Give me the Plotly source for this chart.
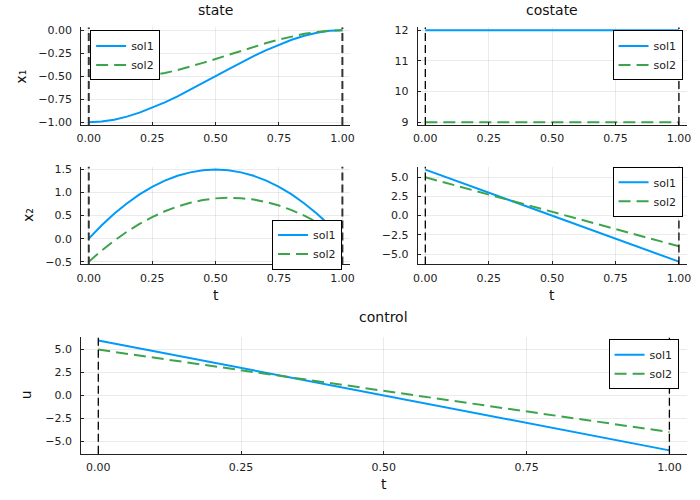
import plotly.graph_objects as go

# time grid and solution samples
t = [0.0, 0.05, 0.1, 0.15, 0.2, 0.25, 0.3, 0.35, 0.4, 0.45, 0.5,
     0.55, 0.6, 0.65, 0.7, 0.75, 0.8, 0.85, 0.9, 0.95, 1.0]
t_ends = [0.0, 1.0]

x1_sol1 = [-1.0, -0.993, -0.972, -0.939, -0.896, -0.844, -0.784, -0.718, -0.648, -0.575, -0.5,
           -0.425, -0.352, -0.282, -0.216, -0.156, -0.104, -0.061, -0.028, -0.007, 0.0]
x1_sol2 = [-0.5, -0.519, -0.527, -0.524, -0.512, -0.492, -0.466, -0.433, -0.396, -0.355, -0.313,
           -0.268, -0.224, -0.181, -0.140, -0.102, -0.068, -0.040, -0.019, -0.005, 0.0]
x2_sol1 = [0.0, 0.285, 0.54, 0.765, 0.96, 1.125, 1.26, 1.365, 1.44, 1.485, 1.5,
           1.485, 1.44, 1.365, 1.26, 1.125, 0.96, 0.765, 0.54, 0.285, 0.0]
x2_sol2 = [-0.5, -0.261, -0.045, 0.149, 0.32, 0.469, 0.595, 0.699, 0.78, 0.839, 0.875,
           0.889, 0.88, 0.849, 0.795, 0.719, 0.62, 0.499, 0.355, 0.189, 0.0]

p1_sol1 = [12.0, 12.0]
p1_sol2 = [9.0, 9.0]
p2_sol1 = [6.0, -6.0]
p2_sol2 = [5.0, -4.0]
u_sol1 = [6.0, -6.0]
u_sol2 = [5.0, -4.0]

x_ticks = [0.0, 0.25, 0.5, 0.75, 1.0]

BLUE = "#009AFA"
GREEN = "#3DA44D"
FONT = "DejaVu Sans"
W, H = 700, 500
S = 0.99  # the page comes out a touch smaller than laid out, stretch a little


def px_x(p):
    return (W / 2 + (p - W / 2) / S) / W


def px_y(p):
    return 1 - (H / 2 + (p - H / 2) / S) / H


def padded(vals, f=0.03):
    lo, hi = min(vals), max(vals)
    s = hi - lo
    return [lo - f * s, hi + f * s]


fig = go.Figure()

# (xaxis, yaxis, legend, left, right, top, bottom, sol1 x/y, sol2 x/y, vline style)
panels = [
    ("x", "y", "legend", 80, 350, 27, 125, (t, x1_sol1), (t, x1_sol2), "thick"),
    ("x2", "y2", "legend2", 418, 688, 27, 125, (t_ends, p1_sol1), (t_ends, p1_sol2), "thin"),
    ("x3", "y3", "legend3", 80, 350, 167, 265, (t, x2_sol1), (t, x2_sol2), "thick"),
    ("x4", "y4", "legend4", 418, 688, 167, 265, (t_ends, p2_sol1), (t_ends, p2_sol2), "thin"),
    ("x5", "y5", "legend5", 80, 688, 338, 455, (t_ends, u_sol1), (t_ends, u_sol2), "thin"),
]

y_fmt = {"y": (0.25, ".2f"), "y2": (1, "d"), "y3": (0.5, ".1f"), "y4": (2.5, ".1f"), "y5": (2.5, ".1f")}

legend_pos = {
    "legend": (89, 30, "left"),
    "legend2": (684, 30, "right"),
    "legend3": (342, 220, "right"),
    "legend4": (684, 167, "right"),
    "legend5": (680, 340, "right"),
}

layout = {}
for xa, ya, lg, l, r, top, bot, s1, s2, vstyle in panels:
    fig.add_trace(go.Scatter(x=s1[0], y=s1[1], mode="lines", name="sol1",
                             line=dict(color=BLUE, width=2), xaxis=xa, yaxis=ya, legend=lg))
    fig.add_trace(go.Scatter(x=s2[0], y=s2[1], mode="lines", name="sol2",
                             line=dict(color=GREEN, width=2, dash="12px,6px"),
                             xaxis=xa, yaxis=ya, legend=lg))
    yr = padded(list(s1[1]) + list(s2[1]))
    xk = "xaxis" + xa[1:]
    yk = "yaxis" + ya[1:]
    common = dict(showline=True, linecolor="#222", linewidth=1, mirror=False,
                  showgrid=True, gridcolor="rgba(0,0,0,0.08)", zeroline=False,
                  ticks="inside", ticklen=3, tickcolor="#222",
                  tickfont=dict(family=FONT, size=11, color="#222"))
    layout[xk] = dict(common, domain=[px_x(l), px_x(r)], anchor=ya, range=padded(t_ends),
                      tickvals=x_ticks, tickformat=".2f", ticklabelstandoff=3)
    dt, fmt = y_fmt[ya]
    layout[yk] = dict(common, domain=[px_y(bot), px_y(top)], anchor=xa, range=yr,
                      dtick=dt, tickformat=fmt, ticklabelstandoff=6)
    lx, ly, side = legend_pos[lg]
    layout[lg] = dict(x=px_x(lx), y=px_y(ly), xanchor=side, yanchor="top",
                      bgcolor="white", bordercolor="black", borderwidth=1,
                      font=dict(family=FONT, size=11, color="#222"),
                      tracegroupgap=0, itemwidth=30)
    for tv in t_ends:
        if vstyle == "thick":
            ln = dict(color="#333", width=2, dash="8px,4px")
        else:
            ln = dict(color="black", width=1.3, dash="8px,4px")
        fig.add_shape(type="line", xref=xa, yref=ya + " domain", x0=tv, x1=tv, y0=0, y1=1,
                      line=ln, layer="above")

annots = [
    ("state", 215, 10, 0, 14), ("costate", 553, 10, 0, 14), ("control", 384, 318, 0, 14),
    ("x₁", 20, 76, -90, 14), ("x₂", 26, 215, -90, 14), ("u", 25, 396, -90, 14),
    ("t", 215, 296, 0, 14), ("t", 553, 296, 0, 14), ("t", 384, 485, 0, 14),
]
for text, ax, ay, rot, size in annots:
    fig.add_annotation(text=text, x=px_x(ax), y=px_y(ay), xref="paper", yref="paper",
                       showarrow=False, textangle=rot, xanchor="center", yanchor="middle",
                       font=dict(family=FONT, size=size, color="#111"))

fig.update_layout(**layout)
fig.update_layout(width=W, height=H, margin=dict(l=0, r=0, t=0, b=0),
                  plot_bgcolor="white", paper_bgcolor="white",
                  font=dict(family=FONT), showlegend=True)

# drop the default page margin so the 700x500 figure sits at the window corner
fig.write_html("out.html", config={"displayModeBar": False},
               post_script="document.body.style.margin = '0';")
